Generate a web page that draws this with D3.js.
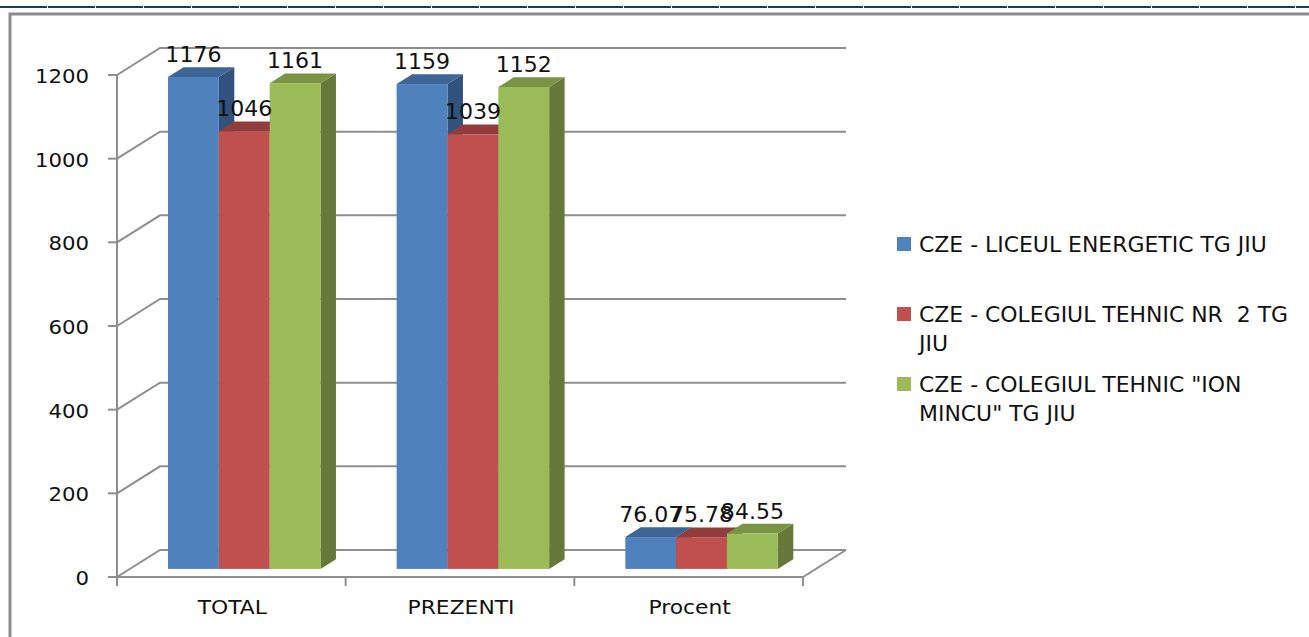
<!DOCTYPE html>
<html lang="en">
<head>
<meta charset="utf-8">
<script src="https://cdn.jsdelivr.net/npm/d3@7"></script>
<style>
  body { margin: 0; background: #fff; }
  text { font-family: "DejaVu Sans", sans-serif; fill: #111; }
</style>
</head>
<body>
<script>
// chart data
var categories = ["TOTAL", "PREZENTI", "Procent"];
var seriesNames = [
  ["CZE - LICEUL ENERGETIC TG JIU"],
  ["CZE - COLEGIUL TEHNIC NR  2 TG", "JIU"],
  ["CZE - COLEGIUL TEHNIC \"ION", "MINCU\" TG JIU"]
];
var liceulValues = [1176, 1159, 76.07];
var nr2Values = [1046, 1039, 75.78];
var mincuValues = [1161, 1152, 84.55];
var yTicks = [0, 200, 400, 600, 800, 1000, 1200];

var series = [liceulValues, nr2Values, mincuValues];
var front = ["#4F81BD", "#C0504D", "#9BBB59"];
var topC  = ["#3D6596", "#923D3B", "#7A9446"];
var sideC = ["#30527C", "#863432", "#66793A"];

var W = 1309, H = 637;
var svg = d3.select("body").append("svg").attr("width", W).attr("height", H);

// frame lines
svg.append("line").attr("x1", 0).attr("x2", W).attr("y1", 7).attr("y2", 7)
   .attr("stroke", "#1F3A5F").attr("stroke-width", 2).attr("stroke-dasharray", "47,1");
svg.append("path").attr("d", "M10," + H + " L10,14 L" + W + ",14")
   .attr("fill", "none").attr("stroke", "#8C8C8C").attr("stroke-width", 3);

// 3d geometry
var x0 = 117, x1 = 803;
var depth = [43, -27];
var y = d3.scaleLinear().domain([0, 1200]).range([577, 75]);
var xCat = d3.scaleBand().domain(categories).range([x0, x1]);
var groupW = 152.5;
var xSer = d3.scaleBand().domain([0, 1, 2]).range([-groupW / 2, groupW / 2]);

var grid = svg.append("g").attr("fill", "none").attr("stroke", "#8E8E8E").attr("stroke-width", 2);
var backRight = x1 + depth[0];

yTicks.forEach(function (t) {
  var yy = y(t);
  grid.append("path").attr("d", "M" + x0 + "," + yy + " L" + (x0 + depth[0]) + "," + (yy + depth[1]) +
    " L" + backRight + "," + (yy + depth[1]));
  grid.append("line").attr("x1", x0 - 9).attr("x2", x0).attr("y1", yy).attr("y2", yy);
});
// floor front edge and right edge
grid.append("path").attr("d", "M" + x0 + "," + y(0) + " L" + x1 + "," + y(0) +
  " L" + backRight + "," + (y(0) + depth[1]));
grid.append("line").attr("x1", x0).attr("x2", x0).attr("y1", y(1200)).attr("y2", y(0) + 9);
categories.concat(["end"]).forEach(function (c, i) {
  var xx = x0 + i * xCat.bandwidth();
  grid.append("line").attr("x1", xx).attr("x2", xx).attr("y1", y(0)).attr("y2", y(0) + 9);
});

// y axis labels
svg.append("g").selectAll("text").data(yTicks).join("text")
  .attr("transform", function (d) { return "translate(89," + (y(d) + 8) + ") scale(1.12,1)"; })
  .attr("text-anchor", "end").attr("font-size", 19)
  .text(function (d) { return d; });

// category labels
svg.append("g").selectAll("text").data(categories).join("text")
  .attr("transform", function (d) { return "translate(" + (xCat(d) + xCat.bandwidth() / 2 + 1) + ",614) scale(1.12,1)"; })
  .attr("text-anchor", "middle").attr("font-size", 19.5)
  .text(function (d) { return d; });

// bars
var tFront = 0.3, tBack = 0.66;
var fo = [depth[0] * tFront, depth[1] * tFront];
var bd = [depth[0] * (tBack - tFront), depth[1] * (tBack - tFront)];
var bars = svg.append("g");
var labels = [];
categories.forEach(function (c, ci) {
  series.forEach(function (vals, si) {
    var v = vals[ci];
    var left = xCat(c) + xCat.bandwidth() / 2 + xSer(si) + fo[0];
    var right = left + xSer.bandwidth();
    var bottom = y(0) + fo[1];
    var top = y(v) + fo[1];
    var pts = function (a) { return a.map(function (p) { return p.join(","); }).join(" "); };
    bars.append("polygon").attr("fill", sideC[si]).attr("points", pts([
      [right, bottom], [right + bd[0], bottom + bd[1]], [right + bd[0], top + bd[1]], [right, top]]));
    bars.append("polygon").attr("fill", topC[si]).attr("points", pts([
      [left, top], [right, top], [right + bd[0], top + bd[1]], [left + bd[0], top + bd[1]]]));
    bars.append("rect").attr("fill", front[si])
      .attr("x", left).attr("y", top).attr("width", right - left).attr("height", bottom - top);
    labels.push({ x: (left + right) / 2, y: top - 15, v: v });
  });
});

svg.append("g").selectAll("text").data(labels).join("text")
  .attr("transform", function (d) { return "translate(" + d.x + "," + d.y + ") scale(1.05,1)"; })
  .attr("text-anchor", "middle").attr("font-size", 21)
  .text(function (d) { return d.v; });

// legend
var legendY = [244, 314, 384];
var legend = svg.append("g");
seriesNames.forEach(function (lines, i) {
  legend.append("rect").attr("x", 897).attr("y", legendY[i] - 7).attr("width", 14).attr("height", 14)
    .attr("fill", front[i]);
  lines.forEach(function (ln, k) {
    legend.append("text")
      .attr("transform", "translate(919," + (legendY[i] + 8 + k * 29) + ") scale(1.07,1)")
      .attr("font-size", 20.5)
      .style("white-space", "pre")
      .text(ln);
  });
});
</script>
</body>
</html>
